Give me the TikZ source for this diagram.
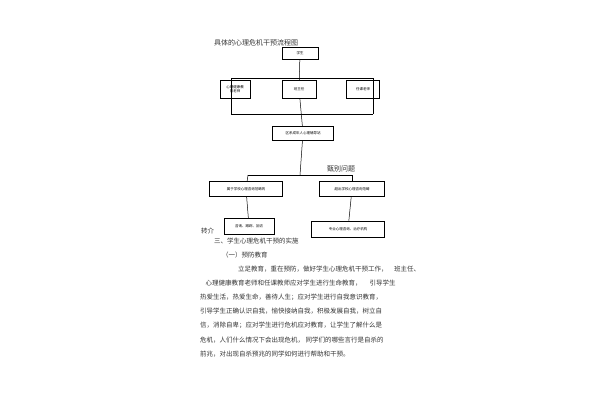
\documentclass[tikz,border=0pt]{standalone}
\usepackage{fontspec}
\newfontfamily\cjk{Noto Sans CJK SC}
\begin{document}
\begin{tikzpicture}[x=1pt,y=-1pt,
 bx/.style={draw,line width=0.5pt,font=\cjk\fontsize{3.5}{4.5}\selectfont,inner sep=0pt,align=center},
 ln/.style={line width=0.5pt},
 tx/.style={anchor=west,inner sep=0pt,font=\cjk\fontsize{6.5}{7}\selectfont,text=black!80}]
\useasboundingbox (0,0) rectangle (600,400);
\node[tx,font=\cjk\fontsize{7}{8}\selectfont] (title) at (214,43) {具体的心理危机干预流程图};
\node[bx,minimum width=36,minimum height=12] (s) at (300,53) {学生};
\node[bx,minimum width=30,minimum height=18] (a) at (235,89) {心理健康教\\育老师};
\node[bx,minimum width=34,minimum height=18] (b) at (299,89) {班主任};
\node[bx,minimum width=33,minimum height=18] (c) at (363,89) {任课老师};
\node[bx,minimum width=61,minimum height=14] (d) at (303,133) {区系成年人心理辅导站};
\node[bx,minimum width=73,minimum height=15] (e) at (246,189) {属于学校心理咨询范畴的};
\node[bx,minimum width=65,minimum height=15] (f) at (352,189) {超出学校心理咨询范畴};
\node[bx,minimum width=50,minimum height=16] (g) at (249,226) {咨询、跟踪、回访};
\node[bx,minimum width=73,minimum height=16] (h) at (348,229) {专业心理咨询、治疗机构};
\coordinate (tl) at (231,78); \coordinate (tr) at (373,78);
\coordinate (bl) at (231,114); \coordinate (br) at (373,114);
\coordinate (sp) at (300,175); \coordinate (spl) at (248,175); \coordinate (spr) at (352,175);
\draw[ln] (s) -- (b) -- (d);
\draw[ln] (tl) -- (tr); \draw[ln] (bl) -- (br);
\draw[ln] (tl) -- (bl); \draw[ln] (tr) -- (br);
\draw[ln] (d) -- (sp); \draw[ln] (spl) -- (spr);
\draw[ln] (spl) -- (e); \draw[ln] (spr) -- (f);
\draw[ln] (e) -- (g); \draw[ln] (f) -- (h);
\node[tx,font=\cjk\fontsize{7}{8}\selectfont] (q) at (327,169) {甄别问题};
\node[tx] (zj) at (201,231) {转介};
\node[tx] (t1) at (214,241) {三、学生心理危机干预的实施};
\node[tx] (t2) at (222,255) {（一）预防教育};
\node[tx] (p1) at (238,269) {立足教育，重在预防，做好学生心理危机干预工作，\quad 班主任、};
\node[tx] (p2) at (204,283) {\ 心理健康教育老师和任课教师应对学生进行生命教育，\quad\ 引导学生};
\node[tx] (p3) at (200,297) {热爱生活，热爱生命，善待人生；应对学生进行自我意识教育，};
\node[tx] (p4) at (200,311) {引导学生正确认识自我，愉快接纳自我，积极发展自我，树立自};
\node[tx] (p5) at (200,325) {信，消除自卑；应对学生进行危机应对教育，让学生了解什么是};
\node[tx] (p6) at (200,340) {危机，人们什么情况下会出现危机，\ 同学们的哪些言行是自杀的};
\node[tx] (p7) at (200,354) {前兆，对出现自杀预兆的同学如何进行帮助和干预。};
\end{tikzpicture}
\end{document}
